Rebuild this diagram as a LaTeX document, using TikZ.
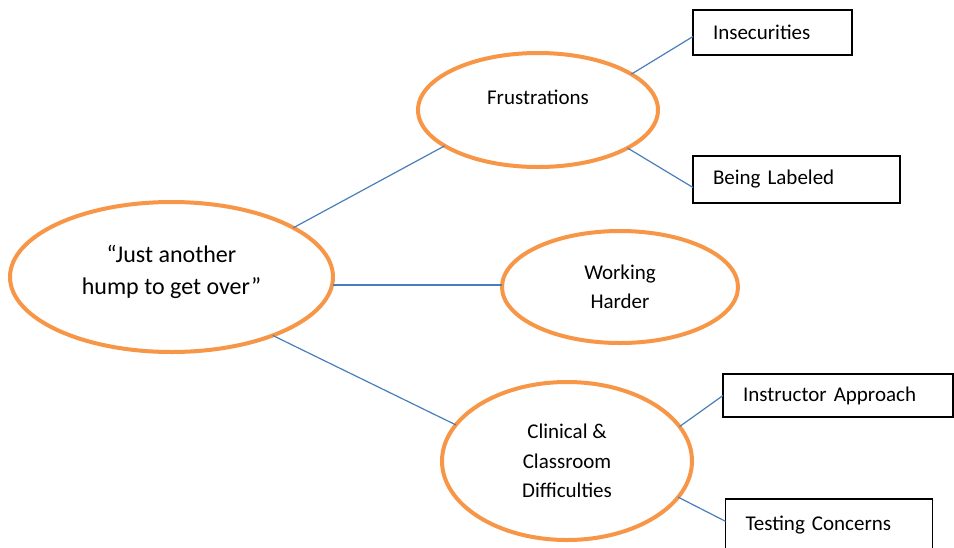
\documentclass[tikz,border=0pt]{standalone}
\usepackage{fontspec}
\setmainfont{Carlito}
\newcommand*{\leaffont}{\fontsize{15.75}{22}\selectfont}
\newcommand*{\hubfont}{\fontsize{18}{24}\selectfont}
\definecolor{rim}{HTML}{F79646}
\definecolor{link}{HTML}{4A7EBB}
\usetikzlibrary{shapes.geometric}
\tikzstyle{base}=[x=0.75pt, y=-0.75pt, inner sep=0pt, outer sep=0pt]
\tikzstyle{bubble}=[ellipse, draw=rim, line width=3pt, fill=white, align=center, font=\leaffont]
\tikzstyle{leaf}=[rectangle, draw=black, line width=1pt, fill=white, align=left, inner xsep=15pt, font=\leaffont]
\tikzstyle{wire}=[draw=link, line width=0.9pt]

\begin{document}
\begin{tikzpicture}[base]
    \useasboundingbox (0,0) rectangle (954,547);
    % centre theme
    \node [bubble, font=\hubfont, minimum width=242.25pt, minimum height=112.5pt, text depth=11pt] (hub) at (171.5,277) {``Just another\\hump to get over''};
    % three sub-themes
    \node [bubble, minimum width=180pt, minimum height=85.5pt, text height=11pt, text depth=19pt] (frus) at (538,110) {Frustrations};
    \node [bubble, minimum width=177pt, minimum height=84pt] (work) at (620,287) {Working\\Harder};
    \node [bubble, minimum width=187.5pt, minimum height=118.5pt] (clin) at (567,461) {Clinical \&\\Classroom\\Difficulties};
    % boxes
    \node [leaf, minimum width=119.25pt, minimum height=33.75pt, text width=89.25pt] (ins) at (772.5,32.5) {Insecurities};
    \node [leaf, minimum width=155.25pt, minimum height=35.25pt, text width=125.25pt] (lab) at (796.5,179.5) {Being Labeled};
    \node [leaf, minimum width=172.5pt, minimum height=32.25pt, text width=142.5pt] (instr) at (838,395.5) {Instructor Approach};
    \node [leaf, minimum width=155.25pt, minimum height=40.5pt, text width=125.25pt, text height=11pt, text depth=5pt] (test) at (829,526) {Testing Concerns};
    % connectors
    \draw [wire] (hub.22) -- (frus.201);
    \draw [wire] (hub.east |- 0,285) -- (work.west |- 0,285);
    \draw [wire] (hub.-30) -- (clin.162);
    \draw [wire] (frus.21) -- ([yshift=-3pt]ins.west);
    \draw [wire] (frus.-23) -- ([yshift=-6pt]lab.west);
    \draw [wire] (clin.17) -- (instr.west);
    \draw [wire] (clin.-18) -- ([yshift=3.5pt]test.west);
\end{tikzpicture}
\end{document}
